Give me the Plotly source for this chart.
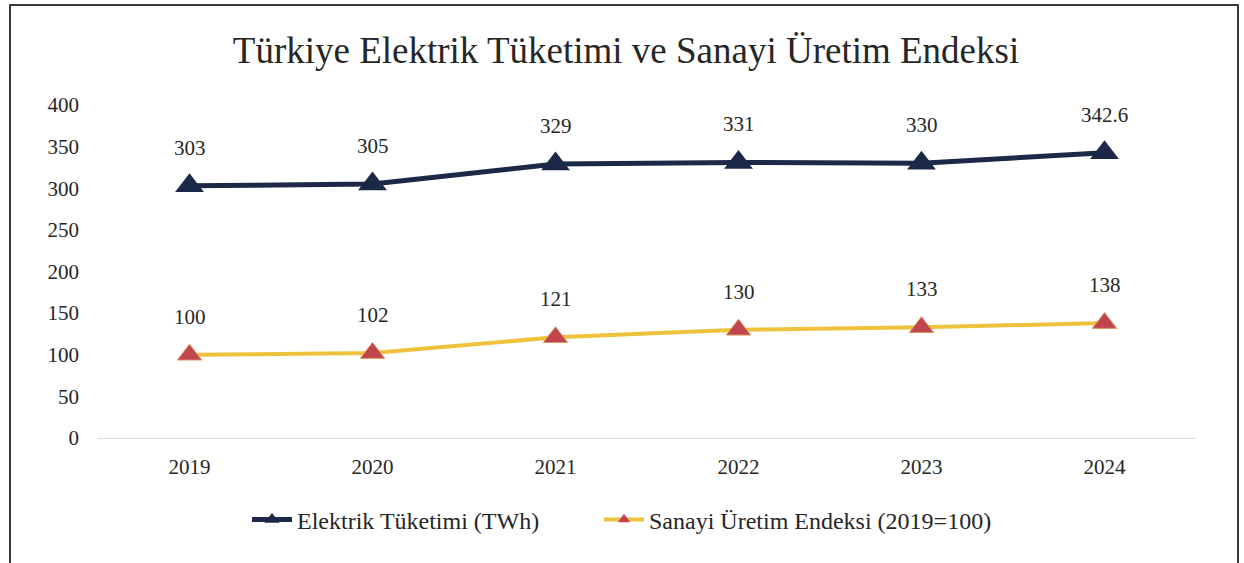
import plotly.graph_objects as go

# Yearly values
years = ["2019", "2020", "2021", "2022", "2023", "2024"]
elektrik = [303, 305, 329, 331, 330, 342.6]
sanayi = [100, 102, 121, 130, 133, 138]
elektrik_labels = ["303", "305", "329", "331", "330", "342.6"]
sanayi_labels = ["100", "102", "121", "130", "133", "138"]
y_ticks = [0, 50, 100, 150, 200, 250, 300, 350, 400]
series_names = ["Elektrik Tüketimi (TWh)", "Sanayi Üretim Endeksi (2019=100)"]

NAVY = "#1B2848"
GOLD = "#EFC23C"
RED = "#C1454F"
TEXT = "#262626"
FONT = "Liberation Serif"

fig = go.Figure()

fig.add_trace(go.Scatter(
    x=years, y=elektrik, name=series_names[0], showlegend=False,
    mode="lines+markers",
    line=dict(color=NAVY, width=5),
    marker=dict(symbol="triangle-up", size=25, color=NAVY),
))
fig.add_trace(go.Scatter(
    x=years, y=sanayi, name=series_names[1], showlegend=False,
    mode="lines+markers",
    line=dict(color=GOLD, width=4),
    marker=dict(symbol="triangle-up", size=21, color=RED,
                line=dict(color="#D9915A", width=1)),
))

# Legend entries with smaller markers than the plotted points
fig.add_trace(go.Scatter(
    x=[None], y=[None], name=series_names[0], mode="lines+markers",
    line=dict(color=NAVY, width=5), legend="legend",
    marker=dict(symbol="triangle-up", size=13, color=NAVY),
))
fig.add_trace(go.Scatter(
    x=[None], y=[None], name=series_names[1], mode="lines+markers",
    line=dict(color=GOLD, width=4), legend="legend2",
    marker=dict(symbol="triangle-up", size=11, color=RED),
))

# Value labels above each point
for ys, labels in [(elektrik, elektrik_labels), (sanayi, sanayi_labels)]:
    for i, (yv, lab) in enumerate(zip(ys, labels)):
        fig.add_annotation(x=i, y=yv, xref="x", yref="y", text=lab,
                           showarrow=False, yshift=38,
                           font=dict(family=FONT, size=21, color=TEXT))

# Outer frame around the whole chart
W, H = 1244, 563
ml, mr, mt, mb = 98, 48, 105, 125
pw, ph = W - ml - mr, H - mt - mb
fig.add_shape(type="rect", xref="paper", yref="paper",
              x0=(10 - ml) / pw, x1=(1238 - ml) / pw,
              y0=(H - mb - 620) / ph, y1=(H - mb - 5) / ph,
              line=dict(color="#3a3a3a", width=2), fillcolor="rgba(0,0,0,0)")

legend_style = dict(orientation="h", xanchor="left",
                    y=(H - mb - 520) / ph, yanchor="middle",
                    font=dict(family=FONT, size=24, color=TEXT),
                    itemwidth=40, bgcolor="rgba(0,0,0,0)")

fig.update_layout(
    width=W, height=H,
    margin=dict(l=ml, r=mr, t=mt, b=mb, pad=0),
    paper_bgcolor="white", plot_bgcolor="white",
    font=dict(family=FONT, color=TEXT, size=21),
    title=dict(text="Türkiye Elektrik Tüketimi ve Sanayi Üretim Endeksi",
               x=(626 - ml) / pw, xref="paper", xanchor="center",
               y=1 - 50 / H, yanchor="middle",
               font=dict(family=FONT, size=37, color=TEXT)),
    showlegend=True,
    legend=dict(x=(247 - ml) / pw, **legend_style),
    legend2=dict(x=(599 - ml) / pw, **legend_style),
    xaxis=dict(type="category", range=[-0.5, 5.5], showgrid=False,
               showline=False, ticks="", ticklabelstandoff=14,
               tickfont=dict(family=FONT, size=21, color=TEXT)),
    yaxis=dict(range=[0, 400], tickvals=y_ticks, showgrid=False,
               zeroline=True, zerolinecolor="#D9D9D9", zerolinewidth=1,
               showline=False, ticks="", ticklabelstandoff=18,
               tickfont=dict(family=FONT, size=21, color=TEXT)),
)

fig.write_html("out.html")
